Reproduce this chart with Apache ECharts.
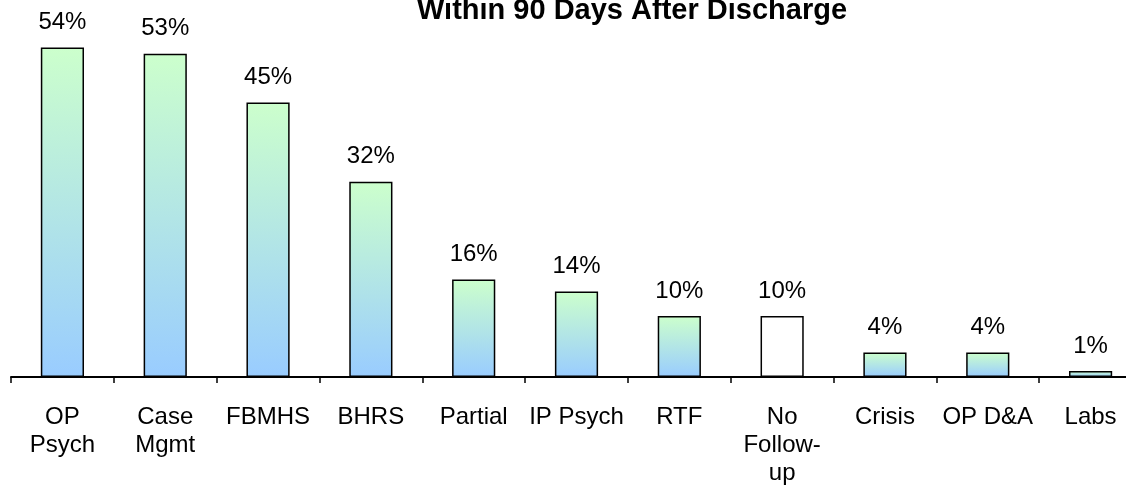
<!DOCTYPE html>
<html><head><meta charset="utf-8">
<script src="https://cdn.jsdelivr.net/npm/echarts@6/dist/echarts.min.js"></script>
<style>html,body{margin:0;padding:0;overflow:hidden;background:#fff;width:1126px;height:487px}#c{width:1160px;height:487px}</style>
</head><body><div id="c"></div>
<script>
const categories = ['OP\nPsych','Case\nMgmt','FBMHS','BHRS','Partial','IP Psych','RTF','No\nFollow-\nup','Crisis','OP D&A','Labs'];
const values = [54,53,45,32,16,14,10,10,4,4,1];
const whiteIndex = 7;
const titleText = 'Within 90 Days After Discharge';

const grad = new echarts.graphic.LinearGradient(0,0,0,1,[{offset:0,color:'#CCFFCC'},{offset:1,color:'#99CCFF'}]);
const chart = echarts.init(document.getElementById('c'));
chart.setOption({
  animation:false,
  title:{text:titleText,left:627,top:-9,textAlign:'center',textStyle:{fontFamily:'Liberation Sans',fontWeight:'bold',fontSize:29,color:'#000'}},
  grid:{left:11,right:18,top:11,bottom:105},
  xAxis:{type:'category',data:categories,
    axisLine:{lineStyle:{color:'#000',width:2}},
    axisTick:{show:true,length:6,lineStyle:{color:'#000',width:1.5}},
    axisLabel:{interval:0,margin:26,fontFamily:'Liberation Sans',fontSize:24,color:'#000',lineHeight:28}},
  yAxis:{type:'value',min:0,max:60,show:false,splitLine:{show:false}},
  series:[{type:'bar',barWidth:'42%',
    data:values.map((v,i)=>({value:v,itemStyle:{color:i===whiteIndex?'#fff':grad}})),
    itemStyle:{borderColor:'#000',borderWidth:1.5},
    label:{show:true,position:'top',distance:13,formatter:'{c}%',fontFamily:'Liberation Sans',fontSize:24,color:'#000'}}]
});
</script></body></html>
